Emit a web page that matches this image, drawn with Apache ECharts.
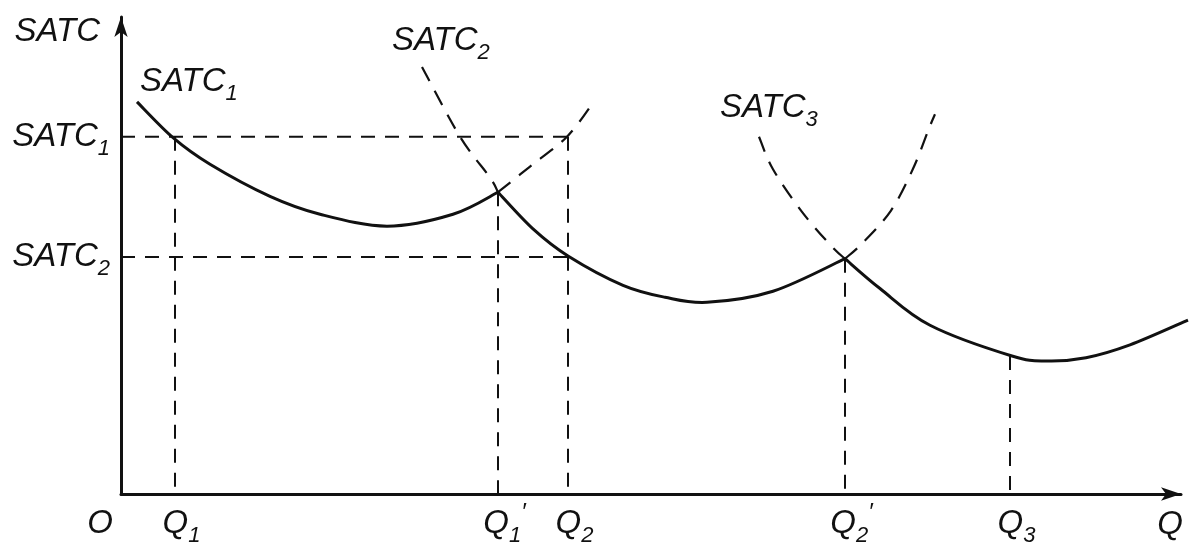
<!DOCTYPE html>
<html>
<head>
<meta charset="utf-8">
<script src="https://cdn.jsdelivr.net/npm/echarts@6/dist/echarts.min.js"></script>
<style>
html,body{margin:0;padding:0;background:#fff;}
#chart{width:1193px;height:548px;}
</style>
</head>
<body>
<div id="chart"></div>
<script>
// ---- data ----
const qValues   = [5.4, 37.7, 44.7, 72.4, 88.9];
const qLabels   = ['Q|1', 'Q|1|′', 'Q|2', 'Q|2|′', 'Q|3'];
const guideTops = [77.9, 65.8, 77.9, 51.3, 30.1];
const originLabel = 'O';

const costLevels = [51.7, 77.9];
const costLabels = ['SATC|2', 'SATC|1'];
const levelEndQ  = [44.7, 44.7];

const satc1Solid  = [[1.6,85.5],[5.2,77.7],[8.9,71.9],[14.9,64.9],[19.9,61.0],[26.6,58.4],[33.2,61.0],[37.7,65.8]];
const satc1Dashed = [[37.7,65.8],[40.9,71.4],[44.6,77.9],[47.4,85.9]];
const satc2DashedLeft  = [[30.1,93.1],[33.9,77.9],[36.9,69.0],[37.7,65.8]];
const satc2Solid       = [[37.7,65.8],[41.2,57.8],[44.7,51.9],[50.2,45.5],[54.4,42.9],[58.6,41.8],[65.2,44.2],[72.4,51.3]];
const satc2DashedRight = [[72.4,51.3],[74.1,54.6],[77.0,61.8],[79.2,70.9],[80.8,79.7],[81.4,82.8]];
const satc3DashedLeft  = [[63.8,77.9],[65.2,70.8],[68.1,61.5],[71.1,53.9],[72.4,51.3]];
const satc3Solid       = [[72.4,51.3],[75.9,44.8],[80.9,36.8],[89.1,30.1],[92.6,29.0],[96.5,29.7],[100.9,32.5],[106.7,37.9]];

const curveNames = ['SATC|1', 'SATC|2', 'SATC|3'];
const curveLabelAnchors = [[1.9, 89.8], [27.1, 98.9], [59.9, 84.2]];

// ---- styling ----
const FONT = '"Liberation Sans", "DejaVu Sans", sans-serif';
const INK = '#111';
const base = {fontStyle: 'italic', fontFamily: FONT, color: INK};
const rich = {
  m: Object.assign({fontSize: 33, lineHeight: 46}, base),
  q: Object.assign({fontSize: 33, lineHeight: 46, padding: [0,0,0,13]}, base),
  s: Object.assign({fontSize: 22, lineHeight: 21, verticalAlign: 'bottom'}, base),
  p: Object.assign({fontSize: 24, lineHeight: 22, verticalAlign: 'top'}, base)
};
function fmt(spec, main) {
  const parts = spec.split('|');
  let out = '{' + (main || 'm') + '|' + parts[0] + '}';
  if (parts[1]) out += '{s|' + parts[1] + '}';
  if (parts[2]) out += '{p|' + parts[2] + '}';
  return out;
}

// Catmull-Rom through pixel points -> cubic bezier path
function smoothPath(px) {
  let d = 'M' + px[0][0] + ',' + px[0][1];
  for (let i = 0; i < px.length - 1; i++) {
    const p0 = px[i - 1] || px[i], p1 = px[i], p2 = px[i + 1], p3 = px[i + 2] || px[i + 1];
    const c1 = [p1[0] + (p2[0] - p0[0]) / 6, p1[1] + (p2[1] - p0[1]) / 6];
    const c2 = [p2[0] - (p3[0] - p1[0]) / 6, p2[1] - (p3[1] - p1[1]) / 6];
    d += 'C' + c1[0] + ',' + c1[1] + ' ' + c2[0] + ',' + c2[1] + ' ' + p2[0] + ',' + p2[1];
  }
  return d;
}

const series = [];
function curve(pts, dashed) {
  series.push({
    type: 'custom', coordinateSystem: 'cartesian2d', silent: true, clip: false,
    data: pts, encode: {x: 0, y: 1},
    renderItem: (params, api) => {
      if (params.dataIndex !== 0) return null;
      const px = pts.map(p => api.coord(p));
      return {
        type: 'path', shape: {pathData: smoothPath(px)},
        style: {fill: null, stroke: INK, lineWidth: dashed ? 2.2 : 3, lineDash: dashed ? [16, 11] : null, lineCap: 'butt'}
      };
    }
  });
}
function guide(a, b) {
  series.push({
    type: 'line', data: [a, b], symbol: 'none', silent: true,
    lineStyle: {color: INK, width: 2, type: [14, 10]}
  });
}

curve(satc1Solid, false);
curve(satc1Dashed, true);
curve(satc2DashedLeft, true);
curve(satc2Solid, false);
curve(satc2DashedRight, true);
curve(satc3DashedLeft, true);
curve(satc3Solid, false);

costLevels.forEach((lv, i) => guide([0, lv], [levelEndQ[i], lv]));
qValues.forEach((q, i) => guide([q, guideTops[i]], [q, 0]));

series.push({
  type: 'scatter', symbolSize: 0, silent: true, itemStyle: {opacity: 1},
  data: curveLabelAnchors.map((p, i) => ({value: p, name: curveNames[i]})),
  label: {show: true, position: 'right', distance: 0, formatter: p => fmt(p.name), rich: rich}
});
series.push({
  type: 'scatter', symbolSize: 0, silent: true, itemStyle: {opacity: 1},
  data: [{value: [0, 0], name: originLabel}],
  label: {show: true, position: 'bottom', distance: 7, offset: [-21, 0], formatter: p => '{m|' + p.name + '}', rich: rich}
});

const chart = echarts.init(document.getElementById('chart'), null, {renderer: 'canvas'});
chart.setOption({
  backgroundColor: '#fff',
  animation: false,
  grid: {left: 121, right: 12, top: 17, bottom: 51, containLabel: false},
  xAxis: {
    type: 'value', min: 0, max: 106,
    axisLine: {show: true, symbol: ['none', 'arrow'], symbolSize: [10, 20], lineStyle: {color: INK, width: 3}},
    axisTick: {show: false}, splitLine: {show: false},
    axisLabel: {
      customValues: qValues, margin: 7, rich: rich, hideOverlap: false,
      formatter: v => fmt(qLabels[qValues.indexOf(v)], 'q')
    },
    name: 'Q', nameLocation: 'end', nameGap: 2,
    nameTextStyle: Object.assign({fontSize: 33, align: 'right', verticalAlign: 'top', lineHeight: 46, padding: [8,0,0,0]}, base)
  },
  yAxis: {
    type: 'value', min: 0, max: 104,
    axisLine: {show: true, symbol: ['none', 'arrow'], symbolSize: [10, 20], lineStyle: {color: INK, width: 3}},
    axisTick: {show: false}, splitLine: {show: false},
    axisLabel: {
      customValues: costLevels, margin: 11, rich: rich,
      formatter: v => fmt(costLabels[costLevels.indexOf(v)])
    },
    name: 'SATC', nameLocation: 'end', nameGap: -15,
    nameTextStyle: Object.assign({fontSize: 33, align: 'right', verticalAlign: 'middle', padding: [0,21,0,0]}, base)
  },
  series: series
});
</script>
</body>
</html>
